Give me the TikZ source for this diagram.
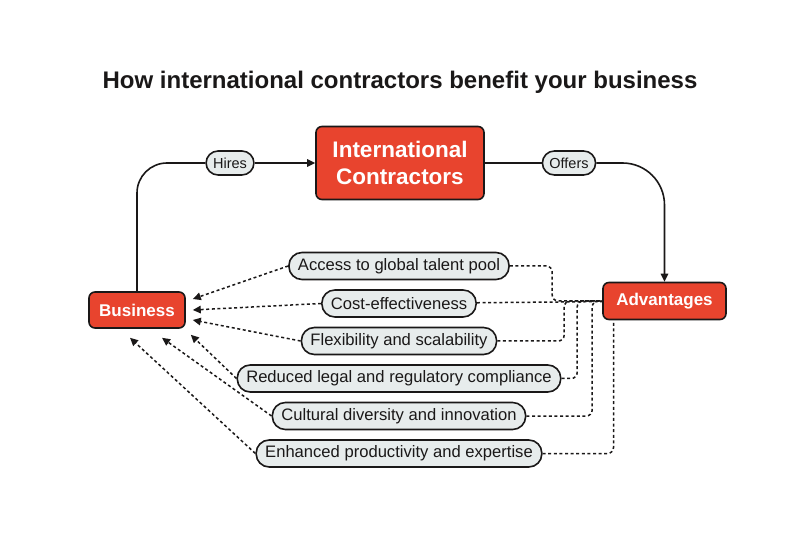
\documentclass[tikz,border=0pt]{standalone}
\usepackage{fontspec}
\setmainfont{Liberation Sans}
\usetikzlibrary{arrows.meta}
\usetikzlibrary{positioning}

\definecolor{brickred}{RGB}{232,68,46}
\definecolor{pillgray}{RGB}{231,236,236}
\definecolor{inkline}{RGB}{26,24,24}

\begin{document}
\begin{tikzpicture}[x=1pt,y=1pt,>={Triangle[length=8pt,width=7.5pt]},line width=1.6pt,color=inkline,
                    every node/.append style={on grid,node distance=37.5pt},
                    redbox/.style={draw=inkline,fill=brickred,text=white,rounded corners=6pt,inner sep=0pt,
                                   font=\bfseries\fontsize{17}{20}\selectfont},
                    pill/.style={draw=inkline,fill=pillgray,rounded corners=13pt,minimum height=27pt,inner xsep=9pt,
                                 font=\fontsize{16.6}{20}\selectfont},
                    tag/.style={draw=inkline,fill=pillgray,rounded corners=12pt,minimum height=24pt,inner xsep=7pt,
                                font=\fontsize{14.5}{17}\selectfont},
                    dots/.style={dash pattern=on 3pt off 2.6pt,line width=1.5pt}]

\useasboundingbox (0,0) rectangle (800,533);

\node (title) at (400,451) {\bfseries\fontsize{24}{28}\selectfont How international contractors benefit your business};

\node [redbox,minimum width=168pt,minimum height=73pt,align=center,
       font=\bfseries\fontsize{22.5}{27}\selectfont] (ic) at (400,370) {International\\Contractors};
\node [tag,left=170pt of ic] (hires) {Hires};
\node [tag,right=169pt of ic] (offers) {Offers};
\node [redbox,minimum width=96pt,minimum height=36pt,below left=147pt and 263pt of ic] (biz) {Business};
\node [redbox,minimum width=123pt,minimum height=37pt,below right=138pt and 264.5pt of ic] (adv) {Advantages};

\node [pill] (p1) at (399,267) {Access to global talent pool};
\node [pill,below=of p1] (p2) {Cost-effectiveness};
\node [pill,below=of p2] (p3) {Flexibility and scalability};
\node [pill,below=of p3] (p4) {Reduced legal and regulatory compliance};
\node [pill,below=of p4] (p5) {Cultural diversity and innovation};
\node [pill,below=of p5] (p6) {Enhanced productivity and expertise};

% top loop
\draw [rounded corners=30pt] (biz.north) |- (hires.west);
\draw [->] (hires) -- (ic);
\draw (ic) -- (offers);
\draw [->,rounded corners=42pt] (offers.east) -| (adv.north);

% advantages to pills
\draw [dots,rounded corners=6pt] (p1.east) -| ([xshift=-50pt]adv.west) -- (adv.west);
\draw [dots] (p2) -- (adv);
\draw [dots,rounded corners=6pt] (p3.east) -| ([xshift=-38pt]adv.west) -- (adv.west);
\draw [dots,rounded corners=6pt] (p4.east) -| ([xshift=-25pt]adv.west) -- (adv.west);
\draw [dots,rounded corners=6pt] (p5.east) -| ([xshift=-10pt]adv.west) -- (adv.west);
\draw [dots,rounded corners=6pt] (p6.east) -| ([xshift=-51pt]adv.south);

% pills to business
\draw [dots,->] (p1.west) -- ([shift={(7pt,11pt)}]biz.east);
\draw [dots,->] (p2.west) -- ([xshift=7pt]biz.east);
\draw [dots,->] (p3.west) -- ([shift={(7pt,-10pt)}]biz.east);
\draw [dots,->] (p4.west) -- ([shift={(5pt,-6pt)}]biz.south east);
\draw [dots,->] (p5.west) -- ([shift={(25pt,-9pt)}]biz.south);
\draw [dots,->] (p6.west) -- ([shift={(-7pt,-9pt)}]biz.south);

\end{tikzpicture}
\end{document}
